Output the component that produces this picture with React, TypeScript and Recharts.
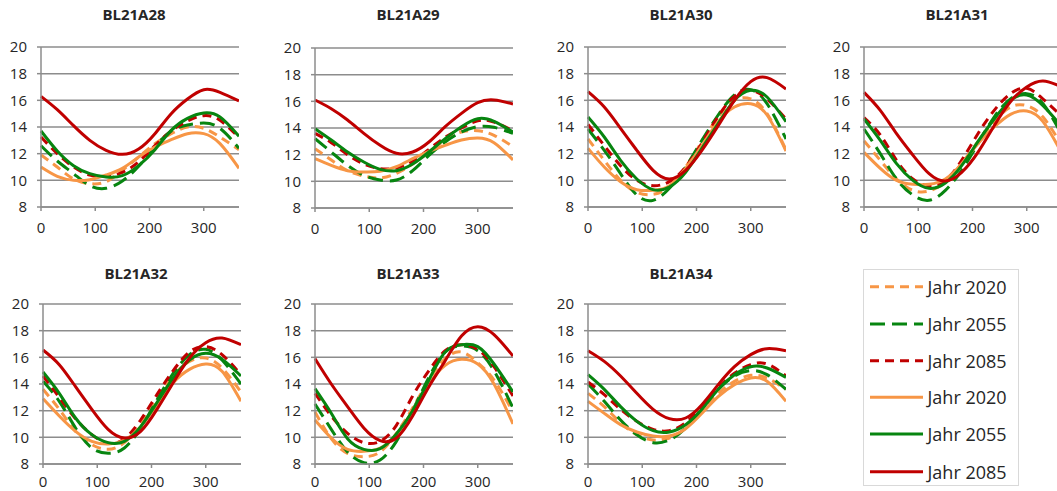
import React from 'react';
import { LineChart, Line, XAxis, YAxis, CartesianGrid } from 'recharts';

// ---------- shared axis data ----------
const days = [0, 30, 60, 90, 120, 150, 180, 210, 240, 270, 300, 330, 365];
const xTicks = [0, 100, 200, 300];
const yTicks = [8, 10, 12, 14, 16, 18, 20];

// ---------- BL21A28 ----------
const a28_d2020 = [11.9, 11.0, 10.1, 9.75, 9.9, 10.75, 11.75, 12.75, 13.5, 14.0, 13.9, 13.25, 12.3];
const a28_d2055 = [12.6, 11.45, 10.5, 9.6, 9.4, 9.95, 11.05, 12.5, 13.7, 14.15, 14.3, 13.9, 12.4];
const a28_d2085 = [13.25, 12.0, 11.0, 10.4, 10.3, 10.6, 11.4, 12.6, 13.7, 14.45, 14.85, 14.5, 13.2];
const a28_s2020 = [11.0, 10.3, 10.0, 10.05, 10.4, 10.9, 11.75, 12.5, 13.05, 13.5, 13.5, 12.75, 10.9];
const a28_s2055 = [13.7, 12.2, 11.1, 10.5, 10.25, 10.35, 11.1, 12.3, 13.75, 14.65, 15.05, 14.75, 13.3];
const a28_s2085 = [16.3, 15.3, 14.1, 13.0, 12.25, 11.95, 12.35, 13.5, 15.0, 16.1, 16.8, 16.6, 15.95];

// ---------- BL21A29 ----------
const a29_d2020 = [12.45, 11.6, 10.8, 10.4, 10.25, 10.6, 11.3, 12.2, 13.1, 13.7, 13.8, 13.45, 12.6];
const a29_d2055 = [13.2, 12.2, 11.2, 10.45, 10.1, 10.1, 10.8, 11.95, 12.95, 13.7, 14.1, 14.05, 13.6];
const a29_d2085 = [13.6, 12.9, 12.0, 11.3, 10.95, 11.0, 11.5, 12.4, 13.3, 14.0, 14.55, 14.45, 13.8];
const a29_s2020 = [11.7, 11.2, 10.8, 10.7, 10.75, 11.1, 11.7, 12.25, 12.7, 13.1, 13.25, 12.9, 11.6];
const a29_s2055 = [13.95, 13.1, 12.2, 11.45, 10.9, 10.8, 11.3, 12.2, 13.2, 14.1, 14.7, 14.5, 13.7];
const a29_s2085 = [16.1, 15.45, 14.6, 13.6, 12.7, 12.1, 12.2, 12.95, 14.1, 15.1, 15.9, 16.1, 15.8];

// ---------- BL21A30 ----------
const a30_d2020 = [13.1, 11.5, 10.0, 9.1, 8.95, 9.5, 11.0, 12.9, 14.75, 16.0, 16.1, 15.0, 12.3];
const a30_d2055 = [13.85, 12.25, 10.5, 8.9, 8.5, 9.4, 11.0, 13.0, 14.9, 16.4, 16.8, 15.75, 13.1];
const a30_d2085 = [14.2, 12.6, 11.1, 10.0, 9.6, 9.9, 11.0, 12.8, 14.8, 16.3, 16.75, 16.1, 14.6];
const a30_s2020 = [12.4, 11.0, 9.9, 9.3, 9.25, 9.6, 10.9, 12.6, 14.4, 15.5, 15.75, 14.9, 12.2];
const a30_s2055 = [14.75, 13.25, 11.5, 10.1, 9.3, 9.5, 10.6, 12.4, 14.25, 16.0, 16.75, 16.25, 14.4];
const a30_s2085 = [16.65, 15.5, 13.9, 12.25, 10.75, 10.1, 10.75, 12.25, 14.1, 16.0, 17.4, 17.7, 16.85];

// ---------- BL21A31 ----------
const a31_d2020 = [12.95, 11.5, 10.1, 9.25, 9.2, 9.9, 11.25, 12.9, 14.4, 15.5, 15.6, 14.75, 12.6];
const a31_d2055 = [13.85, 12.0, 10.1, 8.9, 8.5, 9.25, 10.75, 12.75, 14.75, 16.1, 16.5, 15.75, 13.4];
const a31_d2085 = [14.7, 13.4, 11.5, 10.1, 9.6, 10.0, 11.5, 13.5, 15.25, 16.5, 16.9, 16.1, 14.8];
const a31_s2020 = [12.1, 10.9, 10.0, 9.7, 9.7, 10.1, 11.25, 12.75, 14.0, 14.95, 15.2, 14.4, 12.0];
const a31_s2055 = [14.6, 13.0, 11.25, 10.0, 9.4, 9.8, 11.1, 12.9, 14.6, 16.0, 16.4, 15.6, 14.0];
const a31_s2085 = [16.6, 15.25, 13.5, 11.9, 10.5, 9.95, 10.6, 12.1, 14.1, 15.9, 17.0, 17.45, 17.0];

// ---------- BL21A32 ----------
const a32_d2020 = [13.6, 12.1, 10.45, 9.45, 9.1, 9.6, 10.95, 12.8, 14.6, 15.7, 15.95, 15.2, 13.4];
const a32_d2055 = [14.2, 12.7, 10.7, 9.2, 8.8, 9.2, 10.7, 12.8, 14.8, 16.2, 16.6, 15.8, 14.0];
const a32_d2085 = [14.6, 13.0, 11.4, 10.2, 9.55, 9.9, 11.3, 13.2, 15.0, 16.4, 16.8, 16.2, 14.7];
const a32_s2020 = [12.9, 11.6, 10.45, 9.7, 9.5, 9.8, 10.8, 12.45, 14.1, 15.1, 15.5, 14.95, 12.7];
const a32_s2055 = [14.9, 13.3, 11.45, 10.2, 9.6, 9.7, 10.8, 12.6, 14.45, 15.8, 16.3, 15.85, 14.6];
const a32_s2085 = [16.55, 15.45, 13.8, 12.1, 10.6, 9.95, 10.45, 12.1, 14.1, 15.95, 17.1, 17.45, 16.95];

// ---------- BL21A33 ----------
const a33_d2020 = [11.9, 9.9, 8.8, 8.55, 8.9, 10.3, 12.2, 14.3, 15.9, 16.4, 15.6, 14.3, 11.9];
const a33_d2055 = [12.5, 10.6, 8.9, 8.1, 8.3, 9.7, 12.0, 14.5, 16.4, 16.85, 16.5, 15.0, 12.2];
const a33_d2085 = [13.3, 11.6, 10.3, 9.6, 9.7, 10.9, 13.1, 15.0, 16.5, 16.95, 16.6, 15.3, 13.1];
const a33_s2020 = [11.3, 9.95, 9.1, 8.95, 9.2, 10.2, 12.0, 14.0, 15.4, 15.85, 15.5, 14.0, 11.0];
const a33_s2055 = [13.65, 11.8, 9.9, 9.1, 9.15, 10.25, 12.0, 14.3, 16.4, 16.95, 16.8, 15.5, 13.4];
const a33_s2085 = [15.9, 14.0, 12.3, 10.7, 9.75, 9.95, 11.6, 13.8, 15.75, 17.6, 18.3, 17.7, 16.1];

// ---------- BL21A34 ----------
const a34_d2020 = [13.3, 12.3, 11.1, 10.2, 9.8, 9.95, 10.7, 12.1, 13.3, 14.2, 14.65, 14.45, 13.6];
const a34_d2055 = [14.0, 12.7, 11.3, 10.2, 9.6, 9.8, 10.7, 12.2, 13.6, 14.6, 15.0, 14.7, 13.6];
const a34_d2085 = [14.15, 13.2, 12.1, 11.2, 10.6, 10.5, 11.1, 12.3, 13.7, 14.8, 15.45, 15.5, 14.6];
const a34_s2020 = [12.7, 11.8, 10.95, 10.4, 10.1, 10.1, 10.65, 11.8, 13.05, 13.95, 14.45, 14.2, 12.7];
const a34_s2055 = [14.7, 13.6, 12.3, 11.2, 10.5, 10.4, 10.95, 12.1, 13.6, 14.7, 15.3, 15.2, 14.5];
const a34_s2085 = [16.5, 15.7, 14.6, 13.3, 12.1, 11.4, 11.45, 12.45, 13.95, 15.3, 16.2, 16.65, 16.5];

// ---------- series styling ----------
const ORANGE = '#F79646';
const GREEN = '#078510';
const RED = '#C00000';

const SERIES = [
  { key: 'd2020', label: 'Jahr 2020', color: ORANGE, dash: '9 6' },
  { key: 'd2055', label: 'Jahr 2055', color: GREEN, dash: '15 7' },
  { key: 'd2085', label: 'Jahr 2085', color: RED, dash: '9 6' },
  { key: 's2020', label: 'Jahr 2020', color: ORANGE, dash: undefined },
  { key: 's2055', label: 'Jahr 2055', color: GREEN, dash: undefined },
  { key: 's2085', label: 'Jahr 2085', color: RED, dash: undefined },
];

function buildRows(d2020: number[], d2055: number[], d2085: number[], s2020: number[], s2055: number[], s2085: number[]) {
  return days.map((day, i) => ({
    day,
    d2020: d2020[i],
    d2055: d2055[i],
    d2085: d2085[i],
    s2020: s2020[i],
    s2055: s2055[i],
    s2085: s2085[i],
  }));
}

const PANELS = [
  { name: 'BL21A28', left: 41, top: 47, titleTop: 4, xMargin: 11, data: buildRows(a28_d2020, a28_d2055, a28_d2085, a28_s2020, a28_s2055, a28_s2085) },
  { name: 'BL21A29', left: 315, top: 48, titleTop: 4, xMargin: 11, data: buildRows(a29_d2020, a29_d2055, a29_d2085, a29_s2020, a29_s2055, a29_s2085) },
  { name: 'BL21A30', left: 588, top: 47, titleTop: 4, xMargin: 11, data: buildRows(a30_d2020, a30_d2055, a30_d2085, a30_s2020, a30_s2055, a30_s2085) },
  { name: 'BL21A31', left: 864, top: 47, titleTop: 4, xMargin: 11, data: buildRows(a31_d2020, a31_d2055, a31_d2085, a31_s2020, a31_s2055, a31_s2085) },
  { name: 'BL21A32', left: 43, top: 304, titleTop: 263, xMargin: 8, data: buildRows(a32_d2020, a32_d2055, a32_d2085, a32_s2020, a32_s2055, a32_s2085) },
  { name: 'BL21A33', left: 315, top: 304, titleTop: 263, xMargin: 8, data: buildRows(a33_d2020, a33_d2055, a33_d2085, a33_s2020, a33_s2055, a33_s2085) },
  { name: 'BL21A34', left: 588, top: 304, titleTop: 263, xMargin: 8, data: buildRows(a34_d2020, a34_d2055, a34_d2085, a34_s2020, a34_s2055, a34_s2085) },
];

const FONT = "'Open Sans', 'Noto Sans', sans-serif";
const GRID = '#8C8C8C';
const TEXT = '#262626';

const PW = 198; // plot width
const PH = 160; // plot height
const YW = 40; // y axis width
const MT = 10; // top margin
const XH = 30; // x axis height

function Panel({ name, left, top, titleTop, xMargin, data }: { name: string; left: number; top: number; titleTop: number; xMargin: number; data: any[] }) {
  return (
    <>
      <div
        style={{
          position: 'absolute',
          left: left + PW / 2 - 6 - 60,
          top: titleTop,
          width: 120,
          textAlign: 'center',
          fontFamily: FONT,
          fontWeight: 700,
          fontSize: 15,
          color: TEXT,
          lineHeight: 'normal',
        }}
      >
        {name}
      </div>
      <div style={{ position: 'absolute', left: left - YW, top: top - MT }}>
        <LineChart width={PW + YW} height={PH + MT + XH} data={data} margin={{ top: MT, right: 0, bottom: 0, left: 0 }}>
          <CartesianGrid vertical={false} stroke={GRID} strokeWidth={1.5} />
          <XAxis
            dataKey="day"
            type="number"
            domain={[0, 365]}
            ticks={xTicks}
            interval={0}
            height={XH}
            tickSize={4}
            tickMargin={xMargin}
            axisLine={{ stroke: GRID, strokeWidth: 1.5 }}
            tickLine={{ stroke: GRID, strokeWidth: 1.5 }}
            tick={{ fontSize: 15, fill: TEXT, fontFamily: FONT }}
          />
          <YAxis
            type="number"
            domain={[8, 20]}
            ticks={yTicks}
            interval={0}
            width={YW}
            tickSize={4}
            tickMargin={10}
            axisLine={{ stroke: GRID, strokeWidth: 1.5 }}
            tickLine={{ stroke: GRID, strokeWidth: 1.5 }}
            tick={{ fontSize: 15, fill: TEXT, fontFamily: FONT }}
          />
          {SERIES.map((s) => (
            <Line
              key={s.key}
              dataKey={s.key}
              type="natural"
              stroke={s.color}
              strokeWidth={3}
              strokeDasharray={s.dash}
              dot={false}
              activeDot={false}
              isAnimationActive={false}
            />
          ))}
        </LineChart>
      </div>
    </>
  );
}

function LegendBox() {
  const rowY = [17.7, 55, 91.7, 128.3, 165, 202.7];
  return (
    <div
      style={{
        position: 'absolute',
        left: 863,
        top: 269,
        width: 156,
        height: 217,
        border: '1px solid #D9D9D9',
        boxSizing: 'border-box',
        background: '#fff',
      }}
    >
      <svg width={156} height={217} style={{ position: 'absolute', left: -1, top: -1 }}>
        {SERIES.map((s, i) => (
          <g key={s.key}>
            <line x1={7} x2={60} y1={rowY[i]} y2={rowY[i]} stroke={s.color} strokeWidth={3} strokeDasharray={s.dash} />
            <text x={64.5} y={rowY[i]} dominantBaseline="central" fontFamily={FONT} fontSize={18} fill={TEXT}>
              {s.label}
            </text>
          </g>
        ))}
      </svg>
    </div>
  );
}

export default function App() {
  return (
    <div
      style={{
        position: 'fixed',
        left: 0,
        top: 0,
        width: 1057,
        height: 491,
        overflow: 'hidden',
        background: '#fff',
      }}
    >
      {PANELS.map((p) => (
        <Panel key={p.name} {...p} />
      ))}
      <LegendBox />
    </div>
  );
}
